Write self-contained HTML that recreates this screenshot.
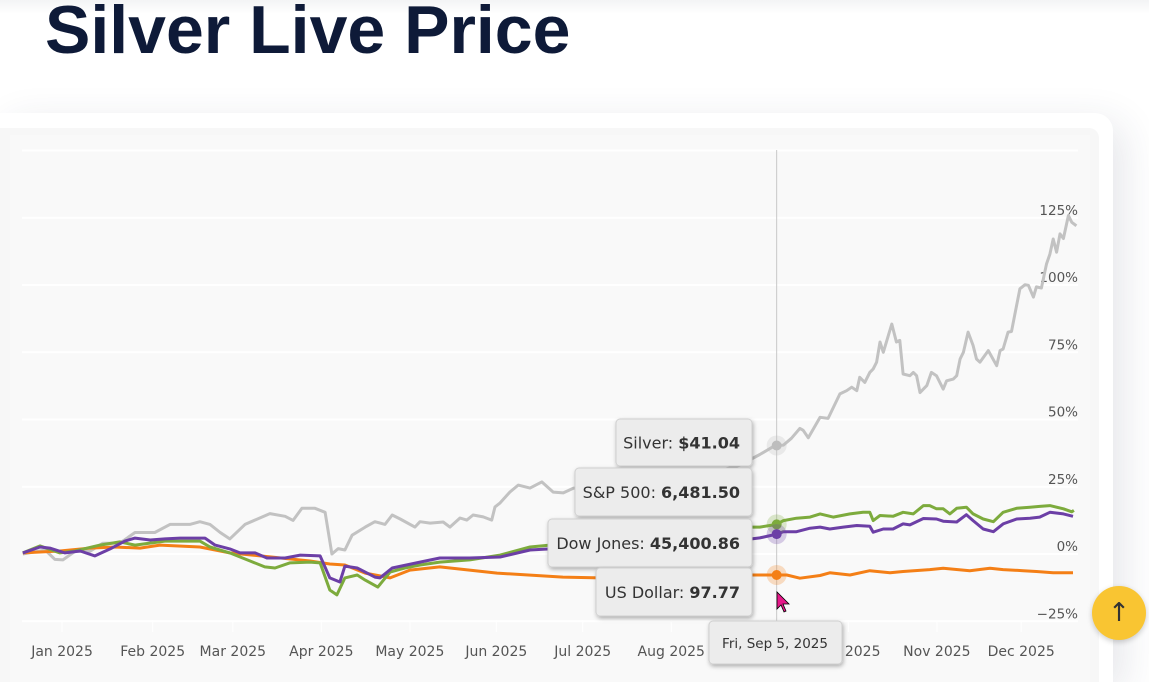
<!DOCTYPE html>
<html><head><meta charset="utf-8">
<style>
html,body{margin:0;width:1149px;height:682px;overflow:hidden}
body{background:#fff;font-family:"Liberation Sans",sans-serif;position:relative}
#title{position:absolute;left:45px;top:-4px;font-size:68px;line-height:68px;font-weight:bold;color:#0e1a38;margin:0;white-space:nowrap}
#topbar{position:absolute;left:0;top:0;width:1149px;height:14px;background:linear-gradient(#f3f4f5,#fff)}
#card{position:absolute;left:0;top:113px;width:1113px;height:569px;background:#fff;border-radius:0 18px 0 0;box-shadow:10px 10px 40px rgba(40,50,80,0.12)}
#inner{position:absolute;left:0;top:128px;width:1099px;height:554px;background:#f7f7f7;border-radius:0 10px 0 0}
svg{position:absolute;left:0;top:0}
.tt{font-family:"DejaVu Sans",sans-serif}
#up{position:absolute;left:1092px;top:586px;width:54px;height:54px;border-radius:50%;background:#f9c532;box-shadow:0 2px 6px rgba(0,0,0,.2);color:#333;font-size:26px;text-align:center;line-height:54px;font-family:"DejaVu Sans",sans-serif}
</style></head><body>
<div id="topbar"></div>
<h1 id="title">Silver Live Price</h1>
<div id="card"></div>
<div id="inner"></div>
<svg id="chart" width="1149" height="682"></svg>
<div id="up">↑</div>
<script>
const monthLabels=["Jan 2025","Feb 2025","Mar 2025","Apr 2025","May 2025","Jun 2025","Jul 2025","Aug 2025","Sep 2025","Oct 2025","Nov 2025","Dec 2025"];
const monthTicks=[9.5,31,50,71,92,112.5,133,154,175,196,217,237];
const yTicks=[-25,0,25,50,75,100,125,150];
const silverT=[0.2,5.5,7.8,9.7,12.6,16.1,19.2,23.2,26.8,31.5,35.1,39.8,42.2,44.6,47,49.3,52.9,58.8,62.4,64.3,66.4,69.5,71.9,73.5,75,76.6,78.3,81.4,83.7,86.1,87.8,89.7,93.2,94.4,96.8,99.9,101.5,103.9,105.5,107,109.4,111.4,112.2,113.4,115.7,117.7,120.5,123.3,126,128.4,130.8,141.8,151.3,160.8,170.3,175,178.6,180.6,182.5,184.5,185.3,186.5,189.3,191.2,194,195.6,196.8,198,198.7,199.9,201.1,201.9,202.7,203.5,204.3,206.3,207.4,208.2,209,210.6,211.4,212.2,213,214.6,215.7,216.9,218.5,219.3,220.9,221.7,222.5,223.3,224.4,225.6,226.4,227.2,229.2,231.2,232,232.7,233.9,234.7,235.9,236.7,237.9,238.7,239.9,240.6,241.8,243,243.8,244.6,245.4,246.2,247,248.2,249,250.1];
const silverV=[0,1.5,-2,-2.2,1,1,4,4,8,8,11,11,12,11,8,5.6,11,15,14,12.5,17,17,15.5,0,2,1.5,7,10,12,11,14.5,13,10,12,11.5,11.9,10,13.4,12.6,14.5,13.8,12.6,17.5,19,23,25.6,24.5,26.8,23,22.7,24.5,25,27,29,33,37,40.3,40.5,43,46.7,46,43.2,50.8,50.4,59.5,60.7,62,60.7,65.7,63.8,67.5,68.8,71.3,78.8,75,85.5,78.8,79.4,66.9,66.3,67.5,66.3,60,62.6,67.5,66.3,61.3,64.4,65,66.3,72.5,75,82.5,77.5,72.5,71.3,75.6,70,75.6,76.2,82.5,82.7,92.4,98.6,100.1,99.9,95.5,99.3,98.9,107.8,111.5,117.1,112.2,119,117.3,125.8,123.3,122];
const spT=[0.2,4.3,9,12.6,18.5,23.2,26.8,33.9,37.5,42.2,44.6,49.3,54.1,57.6,60,63.5,68.3,70.7,73,74.7,76.6,79.5,81.4,84.4,87.3,90.8,94.4,99.1,106.2,113.4,120.5,125.2,137,149,161,170,175,179,180.6,183.7,186.9,189.3,192.4,196.4,199.5,201.1,201.9,203.5,206.6,209,211.4,213.8,215.3,216.9,218.5,220.1,221.7,224,225.6,228,230.4,232.7,235.9,239.1,241.4,243.8,247,249,249.5];
const spV=[0.4,3,0.4,1.1,3.3,4.5,3.3,4.8,4.8,4.8,2.6,0.4,-2.6,-4.8,-5.2,-3.3,-3,-3.3,-13.4,-15.2,-8.9,-7.8,-9.7,-12.3,-6.7,-5.2,-4.1,-3,-2.2,-0.4,2.6,3.3,4,6,8,10,10,11,12.4,13.3,13.7,14.9,13.7,14.9,15.5,15.5,12.4,14.3,14,15.5,14.9,18,18,16.8,16.8,14.9,17,17.4,14.9,13,12,15.5,17,17.4,17.7,18,16.8,15.7,16.2];
const dowT=[0.2,4.3,6.6,10.2,13.8,17.3,20.9,24.4,26.8,30.4,33.9,37.5,41,43.4,45.8,49.3,51.7,55.3,58.1,62.4,66,70.7,73,75.4,76.6,79.5,83.7,84.9,87.8,94.4,99.1,106.2,113.4,120.5,125.2,137,149,161,170,175,179,180.6,183.7,186.9,189.3,191.6,194.8,198,201.1,201.9,204.3,206.6,209,210.6,213.8,216.9,218.5,221.7,224,225.6,228,230.4,232.7,235.9,239.1,241.4,243.8,247,249.3];
const dowV=[0.4,2.6,2.2,0.4,1.1,-0.7,1.9,4.8,5.9,5.2,5.6,5.9,5.9,5.9,3.3,1.9,0.4,0.4,-1.5,-1.5,-0.4,-0.7,-8.9,-10.4,-4.5,-5.2,-8.6,-8.9,-5.2,-3,-1.5,-1.5,-1.1,1.5,1.9,2,3,4,5,6,7.4,8.3,8.3,9.6,10,9.3,10,10.6,10.3,8.1,9.3,9.3,11.2,10.8,13.2,13,12.2,11.9,14.6,12.4,9.3,8.3,11.2,13,13.3,13.7,15.5,14.9,14];
const usdT=[0.2,9,16.1,22,28,32.7,42.2,49.3,56.5,68.3,73,76.6,81.4,87.3,92,99.1,112.7,128.3,137,160.8,179,181.4,184.5,189.3,191.6,196.4,201.1,205.9,209,215.3,218.5,224.8,229.6,232.7,237.5,240.6,244.6,249.3];
const usdV=[0.4,1.1,2.2,2.6,2.2,3.3,2.6,0.4,-0.7,-2.6,-3.7,-4.1,-7.1,-8.9,-6,-4.8,-7.1,-8.6,-8.9,-7.8,-7.8,-7.8,-9,-8,-7,-7.8,-6.2,-7,-6.5,-5.8,-5.3,-6.2,-5.3,-5.8,-6.2,-6.5,-7,-7];
const tipLabels=["Silver: ","S&P 500: ","Dow Jones: ","US Dollar: "];
const tipValues=["$41.04","6,481.50","45,400.86","97.77"];
const tipDate="Fri, Sep 5, 2025";
const hoverT=179;

const NS="http://www.w3.org/2000/svg";
const svg=document.getElementById('chart');
const X=t=>22+t*4.216;
const Y=v=>554-v*2.69;
function el(tag,attrs,parent){const e=document.createElementNS(NS,tag);for(const k in attrs)e.setAttribute(k,attrs[k]);(parent||svg).appendChild(e);return e;}

el('rect',{x:10,y:135,width:1080,height:547,fill:'#f9f9f9'});
yTicks.forEach(v=>{
  const g=el('line',{x1:22,x2:1078,y1:Y(v),y2:Y(v),stroke:'#ffffff','stroke-width':2});
  
  
  if(v<150){
    const lab=el('text',{x:1078,y:Y(v)-3,'text-anchor':'end','font-size':13.5,fill:'#555',class:'tt'});
    lab.textContent=(v<0?'\u221225':v)+'%';
    
    
  }
});
monthTicks.forEach((t,i)=>{
  el('line',{x1:X(t),x2:X(t),y1:620,y2:632,stroke:'#fff','stroke-width':1});
  const lab=el('text',{x:X(t),y:656,'text-anchor':'middle','font-size':14,fill:'#555',class:'tt'});
  lab.textContent=monthLabels[i];
  
  
});
el('line',{x1:X(hoverT),x2:X(hoverT),y1:150,y2:622,stroke:'#c8c8c8','stroke-width':1});
function series(ts,vs,color,name){
  const d=ts.map((t,i)=>(i?'L':'M')+X(t).toFixed(1)+','+Y(vs[i]).toFixed(1)).join('');
  const p=el('path',{d:d,fill:'none',stroke:color,'stroke-width':3,'stroke-linejoin':'round'});
  
  
}
function valAt(ts,vs,t){for(let i=1;i<ts.length;i++){if(ts[i]>=t){const f=(t-ts[i-1])/(ts[i]-ts[i-1]);return vs[i-1]+f*(vs[i]-vs[i-1]);}}return vs[vs.length-1];}
series(silverT,silverV,'#c2c2c2','silver-line');
series(usdT,usdV,'#f47f16','us-dollar-line');
series(spT,spV,'#7dab3d','sp500-line');
series(dowT,dowV,'#6c3fa6','dow-jones-line');
const sets=[[silverT,silverV,'#bdbdbd'],[spT,spV,'#7dab3d'],[dowT,dowV,'#6c3fa6'],[usdT,usdV,'#f47f16']];
sets.forEach(s=>{
  const v=valAt(s[0],s[1],hoverT);
  el('circle',{cx:X(hoverT),cy:Y(v),r:10,fill:s[2],opacity:0.25});
  const m=el('circle',{cx:X(hoverT),cy:Y(v),r:5,fill:s[2]});
  
  
});
const boxes=[[616,419,136,47],[575,468,177,48],[548,519,204,48],[596,568,156,48]];
const defs=el('defs',{});
const f=el('filter',{id:'sh',x:'-20%',y:'-20%',width:'140%',height:'150%'},defs);
el('feDropShadow',{dx:1,dy:2,stdDeviation:2,'flood-opacity':0.3},f);
boxes.forEach((b,i)=>{
  const g=el('g',{});
  
  
  el('rect',{x:b[0],y:b[1],width:b[2],height:b[3],rx:4,fill:'#ececec',stroke:'#d0d0d0',filter:'url(#sh)'},g);
  const t=el('text',{x:b[0]+b[2]-12,y:b[1]+b[3]/2+6,'text-anchor':'end','font-size':16,fill:'#333',class:'tt'},g);
  const a=el('tspan',{},t);a.textContent=tipLabels[i];
  const bb=el('tspan',{'font-weight':'bold'},t);bb.textContent=tipValues[i];
});
const dg=el('g',{});


el('rect',{x:709,y:621,width:133,height:43,rx:4,fill:'#ececec',stroke:'#d0d0d0',filter:'url(#sh)'},dg);
const dt=el('text',{x:775,y:648,'text-anchor':'middle','font-size':13.5,fill:'#333',class:'tt'},dg);
dt.textContent=tipDate;
el('path',{d:'M777,592 l0,17 l4,-4 l3,7 l2,-1 l-3,-7 l6,0 z',fill:'#e6198a',stroke:'#000','stroke-width':0.8});
</script>
</body></html>
